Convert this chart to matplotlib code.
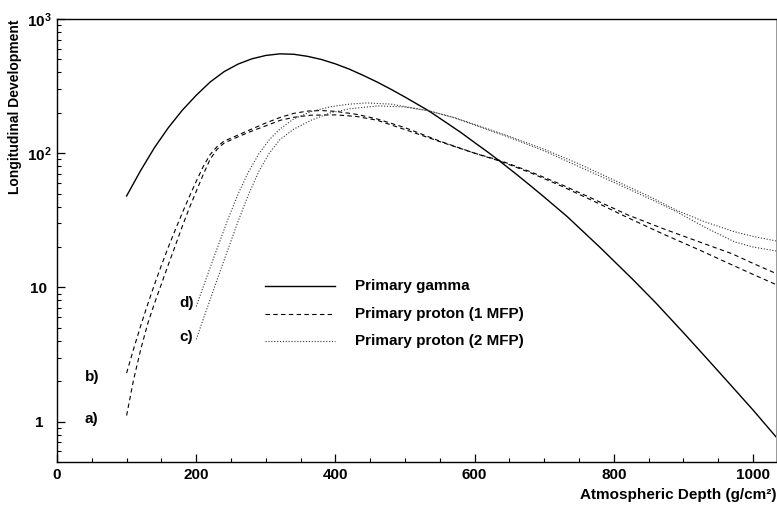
import matplotlib
matplotlib.use("Agg")
import matplotlib.pyplot as plt
from matplotlib.ticker import FixedLocator, LogLocator, NullFormatter, FixedFormatter

plt.rcParams['font.family'] = ['Liberation Sans', 'DejaVu Sans']
plt.rcParams['font.weight'] = 'bold'
plt.rcParams['mathtext.fontset'] = 'custom'
plt.rcParams['mathtext.rm'] = 'Liberation Sans:bold'
plt.rcParams['mathtext.bf'] = 'Liberation Sans:bold'
plt.rcParams['mathtext.it'] = 'Liberation Sans:bold'

# ---- data ----
gamma_x = [100, 120, 140, 160, 180, 200, 220, 240, 260, 280, 300, 320, 340, 360,
           380, 400, 420, 440, 460, 480, 500, 534, 560, 580, 600, 620, 637, 660,
           680, 700, 733, 780, 827, 860, 900, 930, 963, 1000, 1033]
gamma_y = [48, 74, 110, 155, 209, 270, 339, 405, 461, 505, 535, 550, 546, 527,
           499, 463, 423, 380, 339, 299, 262, 207, 168, 143, 120, 101, 86.5, 69.7,
           57.4, 47.1, 33.7, 19.9, 11.5, 7.7, 4.6, 3.1, 2.0, 1.22, 0.77]

proton1b_x = [100, 110, 120, 130, 140, 150, 160, 170, 180, 190, 200, 210, 220, 230,
              240, 255, 278, 300, 321, 340, 360, 380, 400, 430, 460, 500, 550, 600,
              637, 680, 724, 770, 820, 870, 920, 970, 1000, 1033]
proton1b_y = [2.30, 3.47, 5.13, 7.41, 10.5, 14.6, 20.0, 26.9, 35.9, 47.3, 61.7, 79.4,
              97.7, 112, 123, 133, 150, 168, 185, 198, 206, 208, 205, 195, 180, 155,
              123, 100, 87.1, 71.6, 57.1, 44.2, 33.1, 25.1, 19.3, 14.7, 12.5, 10.5]

proton1a_x = [100, 110, 120, 130, 140, 150, 160, 170, 180, 190, 200, 210, 220, 230,
              240, 255, 278, 300, 321, 340, 364, 400, 430, 460, 500, 550, 600,
              637, 680, 724, 770, 820, 870, 920, 970, 1000, 1033]
proton1a_y = [1.11, 2.05, 3.4, 5.3, 7.6, 10.6, 14.8, 20.5, 28.5, 38.9, 51.9, 69.2,
              90.2, 107, 119, 129, 145, 160, 176, 185, 192, 193, 188, 176, 150, 122,
              100, 88.1, 72.8, 58.6, 45.7, 34.7, 27.5, 22.1, 17.8, 15.1, 12.7]

proton2d_x = [200, 215, 230, 245, 260, 275, 290, 305, 320, 340, 365, 393, 420, 445,
              480, 534, 570, 600, 647, 700, 750, 800, 850, 890, 930, 973, 1000, 1033]
proton2d_y = [7.2, 11.9, 19.5, 31.6, 49.5, 72.4, 98.9, 126, 151, 180, 204, 222, 232,
              237, 232, 207, 184, 162, 133, 104, 79.4, 60.7, 46.2, 36.7, 28.2, 21.9,
              20.0, 18.7]

proton2c_x = [200, 215, 230, 245, 260, 275, 290, 305, 320, 340, 365, 393, 420, 460,
              500, 534, 570, 600, 647, 700, 750, 800, 850, 890, 930, 973, 1000, 1033]
proton2c_y = [4.1, 6.84, 11.4, 18.8, 30.9, 49.0, 73.3, 100, 126, 151, 176, 200, 214,
              225, 221, 207, 185, 164, 135, 107, 83.2, 63.1, 47.9, 37.6, 30.9, 26.0,
              24.0, 22.2]

curve_labels = ['a)', 'b)', 'c)', 'd)']
curve_label_x = [50, 50, 186, 186]
curve_label_y = [1.05, 2.15, 4.3, 7.6]

legend_labels = ['Primary gamma', 'Primary proton (1 MFP)', 'Primary proton (2 MFP)']

x_ticks = [0, 200, 400, 600, 800, 1000]
x_tick_labels = ['0', '200', '400', '600', '800', '1000']
y_ticks = [1, 10, 100, 1000]
y_tick_labels = ['1', '10', r'$\mathbf{10^{2}}$', r'$\mathbf{10^{3}}$']

# ---- figure ----
W, H = 777, 508
fig = plt.figure(figsize=(W / 100, H / 100), dpi=100)
ax = fig.add_axes([57 / W, (H - 462) / H, (776 - 57) / W, (462 - 19) / H])

solid_kw = dict(color='black', lw=1.0, ls='-')
dash_kw = dict(color='black', lw=0.8, ls=(0, (4, 3)))
dot_kw = dict(color='#333333', lw=0.8, ls=(0, (1, 1.6)))

ax.plot(gamma_x, gamma_y, **solid_kw)
ax.plot(proton1a_x, proton1a_y, **dash_kw)
ax.plot(proton1b_x, proton1b_y, **dash_kw)
ax.plot(proton2c_x, proton2c_y, **dot_kw)
ax.plot(proton2d_x, proton2d_y, **dot_kw)

ax.set_yscale('log')
ax.set_xlim(0, 1033)
ax.set_ylim(0.5, 1000)

ax.xaxis.set_major_locator(FixedLocator(x_ticks))
ax.xaxis.set_major_formatter(FixedFormatter(x_tick_labels))
ax.xaxis.set_minor_locator(FixedLocator(list(range(0, 1034, 50))))
ax.yaxis.set_major_locator(FixedLocator(y_ticks))
ax.yaxis.set_major_formatter(FixedFormatter(y_tick_labels))
ax.yaxis.set_minor_locator(LogLocator(base=10, subs=range(2, 10), numticks=20))
ax.yaxis.set_minor_formatter(NullFormatter())

ax.tick_params(which='major', direction='in', length=5.8, width=0.9, labelsize=11)
ax.tick_params(which='minor', direction='in', length=3.0, width=0.8)
ax.tick_params(axis='x', which='major', pad=4)
ax.tick_params(axis='y', which='major', pad=13)
ax.tick_params(top=False, right=False, which='both')
for lab in ax.get_yticklabels():
    lab.set_horizontalalignment('center')
for sp in ax.spines.values():
    sp.set_linewidth(1.0)
ax.spines['right'].set_color('#888888')
ax.spines['right'].set_linewidth(0.6)

# curve labels
for t, xv, yv in zip(curve_labels, curve_label_x, curve_label_y):
    ax.text(xv, yv, t, ha='center', va='center', fontsize=11, fontweight='bold')

# legend drawn manually in axes coordinates
leg_y_px = [286, 314, 341]
styles = [solid_kw, dash_kw, dot_kw]
for lbl, ypx, st in zip(legend_labels, leg_y_px, styles):
    yf = (462 - ypx) / (462 - 19)
    x0 = (265 - 57) / (776 - 57)
    x1 = (335 - 57) / (776 - 57)
    ax.plot([x0, x1], [yf, yf], transform=ax.transAxes, **st)
    ax.text((355 - 57) / (776 - 57), yf, lbl, transform=ax.transAxes,
            ha='left', va='center', fontsize=11, fontweight='bold')

fig.text(15 / W, 1 - 20 / H, 'Longitudinal Development', rotation=90,
         ha='center', va='top', fontsize=10, fontweight='bold')
fig.text(776 / W, 1 - 495 / H, 'Atmospheric Depth (g/cm²)',
         ha='right', va='center', fontsize=11, fontweight='bold')

fig.savefig('out.png', dpi=100)
